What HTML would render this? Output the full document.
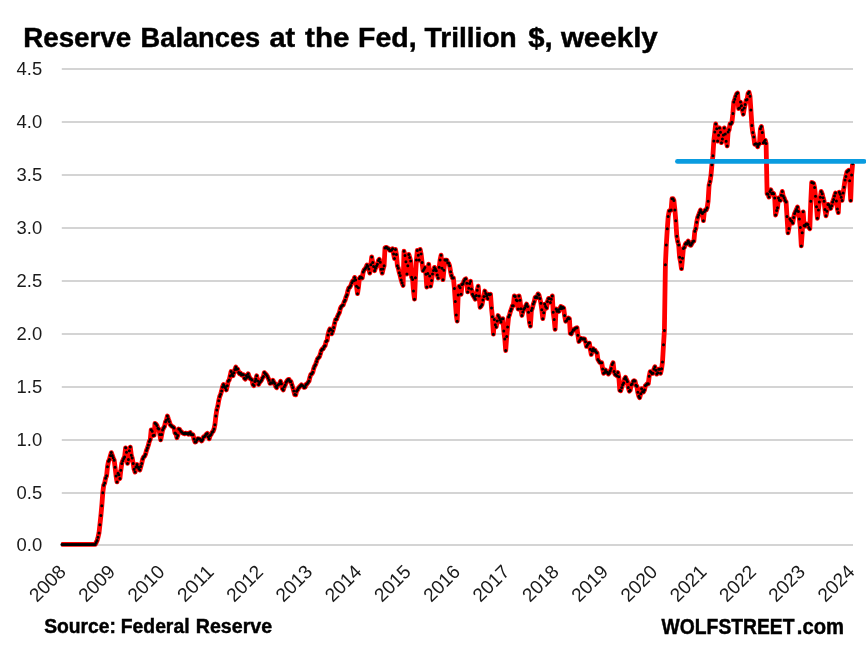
<!DOCTYPE html>
<html lang="en"><head><meta charset="utf-8"><title>Reserve Balances at the Fed</title>
<style>html,body{margin:0;padding:0;background:#fff}body{width:866px;height:645px;overflow:hidden}svg{display:block}text{font-family:"Liberation Sans",sans-serif;fill:#000}.b{font-weight:bold;stroke:#000;stroke-width:.45px}.ax{fill:#1a1a1a}</style></head><body>
<svg width="866" height="645" viewBox="0 0 866 645">
<rect width="866" height="645" fill="#fff"/>
<path d="M61.8 545H853M61.8 493H853M61.8 440H853M61.8 387H853M61.8 334H853M61.8 281H853M61.8 228H853M61.8 175H853M61.8 122H853M61.8 69H853" stroke="#d4d4d4" stroke-width="2" fill="none"/>
<text class="ax" x="16.6" y="551.3" font-size="17.8" textLength="25.6" lengthAdjust="spacingAndGlyphs">0.0</text>
<text class="ax" x="16.6" y="499.3" font-size="17.8" textLength="25.6" lengthAdjust="spacingAndGlyphs">0.5</text>
<text class="ax" x="16.6" y="446.3" font-size="17.8" textLength="25.6" lengthAdjust="spacingAndGlyphs">1.0</text>
<text class="ax" x="16.6" y="393.3" font-size="17.8" textLength="25.6" lengthAdjust="spacingAndGlyphs">1.5</text>
<text class="ax" x="16.6" y="340.3" font-size="17.8" textLength="25.6" lengthAdjust="spacingAndGlyphs">2.0</text>
<text class="ax" x="16.6" y="287.3" font-size="17.8" textLength="25.6" lengthAdjust="spacingAndGlyphs">2.5</text>
<text class="ax" x="16.6" y="234.3" font-size="17.8" textLength="25.6" lengthAdjust="spacingAndGlyphs">3.0</text>
<text class="ax" x="16.6" y="181.3" font-size="17.8" textLength="25.6" lengthAdjust="spacingAndGlyphs">3.5</text>
<text class="ax" x="16.6" y="128.3" font-size="17.8" textLength="25.6" lengthAdjust="spacingAndGlyphs">4.0</text>
<text class="ax" x="16.6" y="75.3" font-size="17.8" textLength="25.6" lengthAdjust="spacingAndGlyphs">4.5</text>
<path d="M61.3 544.4L61.9 544.4L62.9 544.4L63.8 544.4L64.8 544.4L65.7 544.4L66.7 544.4L67.6 544.4L68.6 544.4L69.5 544.4L70.5 544.4L71.4 544.4L72.4 544.4L73.3 544.4L74.3 544.4L75.2 544.4L76.2 544.4L77.1 544.4L78.1 544.4L79.0 544.4L80.0 544.4L80.9 544.4L81.9 544.4L82.8 544.4L83.8 544.4L84.7 544.4L85.7 544.4L86.6 544.4L87.6 544.4L88.5 544.4L89.5 544.4L90.4 544.4L91.4 544.4L92.3 544.4L93.3 544.4L94.2 544.4L95.2 544.4L96.1 542.6L97.1 540.5L98.0 537.3L99.0 532.9L99.9 524.8L100.9 515.5L101.8 505.7L102.8 492.7L103.7 485.2L104.7 483.0L105.6 478.2L106.6 475.8L107.5 466.7L108.5 461.2L109.4 459.6L110.4 455.6L111.3 452.6L112.3 455.4L113.2 457.8L114.2 460.2L115.1 467.3L116.1 476.1L117.0 481.9L118.0 473.2L118.9 474.7L119.9 478.6L120.8 470.3L121.8 463.4L122.7 460.8L123.7 458.5L124.6 456.9L125.6 447.8L126.5 452.3L127.5 463.4L128.4 459.4L129.4 450.7L130.3 447.1L131.3 455.2L132.2 458.0L133.2 463.6L134.1 469.3L135.1 472.1L136.0 467.1L137.0 464.5L137.9 467.0L138.9 468.8L139.8 470.0L140.8 466.5L141.7 463.4L142.7 459.0L143.6 457.0L144.6 456.3L145.5 454.3L146.5 450.4L147.4 448.1L148.4 445.1L149.3 441.4L150.3 439.5L151.2 429.8L152.2 431.2L153.1 435.6L154.1 435.2L155.0 423.3L156.0 424.1L156.9 425.4L157.9 428.2L158.8 429.0L159.8 434.4L160.7 439.9L161.7 434.5L162.6 430.1L163.6 427.9L164.5 426.5L165.5 421.7L166.4 420.3L167.4 416.0L168.3 418.8L169.3 421.5L170.2 424.7L171.2 425.6L172.1 426.4L173.1 426.9L174.0 427.9L175.0 433.0L175.9 433.7L176.9 437.7L177.8 435.6L178.8 429.0L179.7 429.6L180.7 431.3L181.6 432.0L182.6 432.9L183.5 433.4L184.5 433.8L185.4 433.1L186.4 433.4L187.3 433.4L188.3 434.2L189.2 433.1L190.2 432.5L191.1 434.4L192.1 434.4L193.0 434.8L194.0 439.1L195.0 442.0L195.9 441.9L196.9 440.1L197.8 438.6L198.8 438.8L199.7 439.1L200.7 439.9L201.6 441.0L202.6 439.6L203.5 436.9L204.5 436.6L205.4 435.5L206.4 434.1L207.3 433.4L208.3 436.7L209.2 438.8L210.2 435.4L211.1 434.5L212.1 432.3L213.0 431.5L214.0 429.0L214.9 424.7L215.9 416.0L216.8 409.9L217.8 406.1L218.7 400.8L219.7 396.5L220.6 394.3L221.6 391.0L222.5 387.0L223.5 384.5L224.4 386.2L225.4 387.8L226.3 389.9L227.3 385.7L228.2 381.3L229.2 380.0L230.1 376.1L231.1 371.5L232.0 374.2L233.0 375.8L233.9 372.7L234.9 369.5L235.8 367.1L236.8 369.3L237.7 369.1L238.7 372.6L239.6 373.7L240.6 373.2L241.5 375.0L242.5 374.6L243.4 374.7L244.4 378.2L245.3 379.1L246.3 375.4L247.2 377.3L248.2 373.7L249.1 376.4L250.1 378.6L251.0 379.1L252.0 380.1L252.9 384.4L253.9 385.6L254.8 381.5L255.8 379.1L256.7 375.8L257.7 381.1L258.6 384.5L259.6 382.4L260.5 381.4L261.5 380.2L262.4 378.0L263.4 376.5L264.3 372.6L265.3 373.8L266.2 374.4L267.2 376.0L268.1 378.0L269.1 380.2L270.0 383.4L271.0 382.7L271.9 383.0L272.9 380.2L273.8 382.1L274.8 383.5L275.7 386.5L276.7 387.8L277.6 385.2L278.6 384.4L279.5 383.7L280.5 381.3L281.4 383.7L282.4 388.8L283.3 389.9L284.3 386.7L285.2 385.0L286.2 382.3L287.1 380.7L288.1 379.6L289.0 379.4L290.0 381.5L290.9 381.5L291.9 384.8L292.8 387.6L293.8 391.1L294.7 394.6L295.7 394.8L296.6 391.2L297.6 389.8L298.5 388.1L299.5 386.9L300.4 385.9L301.4 384.8L302.3 385.6L303.3 385.9L304.2 387.4L305.2 387.0L306.1 384.4L307.1 383.8L308.0 382.5L309.0 381.1L309.9 377.2L310.9 374.3L311.8 373.8L312.8 372.3L313.7 368.6L314.7 365.9L315.6 364.4L316.6 361.5L317.5 358.8L318.5 357.7L319.4 356.8L320.4 353.8L321.3 350.5L322.3 349.0L323.2 348.9L324.2 346.6L325.1 345.8L326.1 341.6L327.1 340.5L328.0 334.9L329.0 331.1L329.9 329.1L330.9 329.5L331.8 333.8L332.8 331.0L333.7 327.6L334.7 323.0L335.6 319.5L336.6 319.2L337.5 316.5L338.5 314.3L339.4 312.6L340.4 308.4L341.3 306.6L342.3 305.6L343.2 305.0L344.2 301.8L345.1 300.2L346.1 296.8L347.0 294.8L348.0 290.4L348.9 287.8L349.9 287.2L350.8 285.5L351.8 282.8L352.7 280.9L353.7 280.7L354.6 277.4L355.6 279.9L356.5 286.2L357.5 293.7L358.4 287.7L359.4 278.5L360.3 277.1L361.3 277.2L362.2 278.0L363.2 272.1L364.1 269.9L365.1 268.7L366.0 267.5L367.0 265.0L367.9 266.2L368.9 269.0L369.8 273.1L370.8 264.8L371.7 256.9L372.7 262.4L373.6 266.4L374.6 270.7L375.5 268.2L376.5 266.1L377.4 264.2L378.4 260.4L379.3 259.3L380.3 262.3L381.2 269.2L382.2 273.1L383.1 269.1L384.1 265.8L385.0 247.9L386.0 247.3L386.9 247.5L387.9 248.7L388.8 248.7L389.8 250.4L390.7 250.4L391.7 250.0L392.6 248.7L393.6 254.0L394.5 258.5L395.5 249.5L396.4 254.4L397.4 265.8L398.3 268.2L399.3 272.8L400.2 275.6L401.2 279.9L402.1 282.8L403.1 285.4L404.0 251.2L405.0 255.5L405.9 261.7L406.9 274.0L407.8 265.7L408.8 254.4L409.7 257.5L410.7 260.9L411.6 277.2L412.6 279.6L413.5 290.9L414.5 299.2L415.4 277.8L416.4 260.1L417.3 250.4L418.3 255.3L419.2 260.1L420.2 249.5L421.1 253.9L422.1 262.6L423.0 270.7L424.0 269.3L424.9 267.4L425.9 274.3L426.8 287.0L427.8 273.6L428.7 264.2L429.7 275.9L430.6 286.2L431.6 280.4L432.5 274.0L433.5 270.6L434.4 267.4L435.4 268.9L436.3 270.7L437.3 275.0L438.2 278.0L439.2 267.3L440.1 260.1L441.1 255.2L442.0 268.3L443.0 279.7L443.9 270.2L444.9 260.1L445.8 260.2L446.8 260.1L447.7 262.8L448.7 263.3L449.6 265.8L450.6 271.7L451.5 275.6L452.5 278.1L453.4 278.0L454.4 288.4L455.3 301.6L456.3 315.0L457.2 321.2L458.2 295.1L459.2 286.2L460.1 287.8L461.1 294.3L462.0 284.5L463.0 283.8L463.9 281.2L464.9 279.3L465.8 278.8L466.8 283.2L467.7 291.9L468.7 288.3L469.6 283.6L470.6 281.3L471.5 289.1L472.5 294.3L473.4 296.0L474.4 297.6L475.3 299.2L476.3 295.6L477.2 290.3L478.2 286.2L479.1 296.0L480.1 307.3L481.0 306.2L482.0 304.5L482.9 300.0L483.9 296.5L484.8 291.0L485.8 293.4L486.7 295.9L487.7 298.4L488.6 294.3L489.6 294.7L490.5 294.3L491.5 308.1L492.4 316.8L493.4 334.2L494.3 319.5L495.3 324.7L496.2 326.9L497.2 321.1L498.1 315.5L499.1 317.6L500.0 319.8L501.0 322.0L501.9 319.1L502.9 318.7L503.8 330.9L504.8 338.9L505.7 350.5L506.7 336.6L507.6 326.9L508.6 317.1L509.5 314.9L510.5 311.1L511.4 309.0L512.4 305.7L513.3 305.7L514.3 295.9L515.2 296.4L516.2 300.0L517.1 300.8L518.1 309.0L519.0 295.9L520.0 300.2L520.9 308.7L521.9 315.5L522.8 312.1L523.8 309.2L524.7 308.1L525.7 305.8L526.6 304.1L527.6 306.5L528.5 312.2L529.5 322.5L530.4 326.1L531.4 310.6L532.3 308.3L533.3 304.1L534.2 301.7L535.2 297.4L536.1 296.7L537.1 297.4L538.0 293.9L539.0 295.1L539.9 298.5L540.9 303.3L541.8 309.7L542.8 318.7L543.7 312.7L544.7 304.1L545.6 306.6L546.6 308.1L547.5 301.5L548.5 298.4L549.4 298.5L550.4 302.4L551.3 299.3L552.3 295.9L553.2 312.2L554.2 319.6L555.1 329.3L556.1 309.0L557.0 311.2L558.0 310.1L558.9 311.4L559.9 308.4L560.8 306.5L561.8 308.4L562.7 307.3L563.7 308.1L564.6 315.6L565.6 321.2L566.5 320.8L567.5 319.0L568.4 318.0L569.4 318.7L570.3 333.4L571.3 333.9L572.2 331.7L573.2 329.8L574.1 330.1L575.1 328.5L576.0 328.1L577.0 327.7L577.9 335.2L578.9 341.5L579.8 340.3L580.8 338.3L581.7 338.6L582.7 339.1L583.6 338.7L584.6 339.1L585.5 341.7L586.5 346.4L587.4 344.9L588.4 343.3L589.4 343.1L590.3 349.3L591.3 354.5L592.2 351.0L593.2 348.8L594.1 350.7L595.1 350.3L596.0 352.0L597.0 352.9L597.9 359.4L598.9 361.1L599.8 362.4L600.8 362.8L601.7 362.7L602.7 369.1L603.6 373.3L604.6 372.6L605.5 370.0L606.5 372.3L607.4 372.3L608.4 374.1L609.3 373.0L610.3 370.8L611.2 368.5L612.2 364.6L613.1 362.7L614.1 371.6L615.0 374.3L616.0 375.1L616.9 375.7L617.9 372.5L618.8 376.8L619.8 390.4L620.7 390.7L621.7 387.6L622.6 384.7L623.6 383.0L624.5 378.8L625.5 377.3L626.4 379.4L627.4 381.4L628.3 387.6L629.3 391.2L630.2 390.2L631.2 384.7L632.1 383.9L633.1 381.3L634.0 380.6L635.0 381.1L635.9 385.3L636.9 386.3L637.8 392.3L638.8 396.2L639.7 397.7L640.7 393.7L641.6 388.7L642.6 391.6L643.5 392.0L644.5 389.9L645.4 385.5L646.4 384.7L647.3 383.7L648.3 383.8L649.2 376.3L650.2 371.6L651.1 372.3L652.1 373.5L653.0 373.3L654.0 368.9L654.9 366.8L655.9 370.3L656.8 374.1L657.8 372.7L658.7 369.2L659.7 369.2L660.6 373.3L661.6 368.7L662.5 361.9L663.5 344.8L664.4 330.4L665.4 264.7L666.3 245.1L667.3 228.8L668.2 216.6L669.2 210.9L670.1 210.6L671.1 210.1L672.0 198.7L673.0 198.7L673.9 200.4L674.9 210.1L675.8 220.7L676.8 236.2L677.7 241.4L678.7 245.1L679.6 257.3L680.6 261.9L681.5 268.7L682.5 258.2L683.4 248.4L684.4 247.4L685.3 244.3L686.3 243.0L687.2 243.8L688.2 241.1L689.1 242.6L690.1 245.1L691.0 245.3L692.0 243.2L692.9 241.6L693.9 241.1L694.8 231.3L695.8 228.6L696.7 222.3L697.7 217.3L698.6 215.0L699.6 212.5L700.5 210.1L701.5 212.2L702.4 213.4L703.4 220.7L704.3 211.7L705.3 210.0L706.2 210.1L707.2 207.7L708.1 201.2L709.1 185.0L710.0 181.6L711.0 175.2L711.9 164.7L712.9 155.7L713.8 141.1L714.8 132.1L715.7 124.0L716.7 128.7L717.6 141.1L718.6 135.2L719.5 128.0L720.5 132.3L721.5 142.7L722.4 139.1L723.4 135.0L724.3 128.0L725.3 133.9L726.2 141.2L727.2 145.9L728.1 132.1L729.1 129.8L730.0 124.0L731.0 123.9L731.9 122.3L732.9 113.4L733.8 102.0L734.8 99.2L735.7 96.3L736.7 93.8L737.6 93.0L738.6 108.5L739.5 107.9L740.5 102.0L741.4 105.8L742.4 110.0L743.3 114.2L744.3 108.1L745.2 104.4L746.2 100.1L747.1 99.5L748.1 93.4L749.0 92.2L750.0 96.3L750.9 110.1L751.9 125.6L752.8 132.6L753.8 137.0L754.7 144.3L755.7 143.8L756.6 144.0L757.6 146.8L758.5 144.4L759.5 143.5L760.4 128.8L761.4 126.4L762.3 132.4L763.3 142.7L764.2 141.6L765.2 140.2L766.1 143.5L767.1 193.8L768.0 194.3L769.0 197.1L769.9 191.4L770.9 189.8L771.8 193.5L772.8 193.0L773.7 193.7L774.7 197.9L775.6 215.0L776.6 210.6L777.5 207.7L778.5 197.9L779.4 200.3L780.4 200.4L781.3 195.3L782.3 191.4L783.2 196.1L784.2 197.9L785.1 200.6L786.1 202.0L787.0 216.6L788.0 232.9L788.9 228.4L789.9 219.1L790.8 220.4L791.8 221.2L792.7 223.1L793.7 217.4L794.6 213.4L795.6 211.2L796.5 209.4L797.5 206.9L798.4 211.6L799.4 219.1L800.3 227.5L801.3 245.9L802.2 232.8L803.2 211.8L804.1 225.6L805.1 226.1L806.0 224.0L807.0 224.0L807.9 224.6L808.9 227.4L809.8 228.8L810.8 201.2L811.7 182.4L812.7 182.8L813.6 183.3L814.6 187.5L815.5 196.3L816.5 206.8L817.4 218.3L818.4 210.0L819.3 202.0L820.3 197.3L821.2 191.4L822.2 193.8L823.1 197.7L824.1 201.2L825.0 209.5L826.0 215.8L826.9 211.3L827.9 204.4L828.8 204.7L829.8 206.8L830.7 208.5L831.7 205.7L832.6 202.0L833.6 199.5L834.5 196.1L835.5 193.0L836.4 201.0L837.4 209.0L838.3 212.6L839.3 192.2L840.2 194.2L841.2 197.3L842.1 200.4L843.1 192.9L844.0 187.3L845.0 180.0L845.9 176.4L846.9 171.9L847.8 171.0L848.8 170.2L849.7 180.8L850.7 200.4L851.6 175.1L852.6 163.7" stroke="#ff0000" stroke-width="4.8" fill="none" stroke-linejoin="round" stroke-linecap="butt"/>
<path d="M61.9 544.4h0M62.9 544.4h0M63.8 544.4h0M64.8 544.4h0M65.7 544.4h0M66.7 544.4h0M67.6 544.4h0M68.6 544.4h0M69.5 544.4h0M70.5 544.4h0M71.4 544.4h0M72.4 544.4h0M73.3 544.4h0M74.3 544.4h0M75.2 544.4h0M76.2 544.4h0M77.1 544.4h0M78.1 544.4h0M79.0 544.4h0M80.0 544.4h0M80.9 544.4h0M81.9 544.4h0M82.8 544.4h0M83.8 544.4h0M84.7 544.4h0M85.7 544.4h0M86.6 544.4h0M87.6 544.4h0M88.5 544.4h0M89.5 544.4h0M90.4 544.4h0M91.4 544.4h0M92.3 544.4h0M93.3 544.4h0M94.2 544.4h0M95.2 544.4h0M96.1 542.6h0M97.1 540.5h0M98.0 537.3h0M99.0 532.9h0M99.9 524.8h0M100.9 515.5h0M101.8 505.7h0M102.8 492.7h0M103.7 485.2h0M104.7 483.0h0M105.6 478.2h0M106.6 475.8h0M107.5 466.7h0M108.5 461.2h0M109.4 459.6h0M110.4 455.6h0M111.3 452.6h0M112.3 455.4h0M113.2 457.8h0M114.2 460.2h0M115.1 467.3h0M116.1 476.1h0M117.0 481.9h0M118.0 473.2h0M118.9 474.7h0M119.9 478.6h0M120.8 470.3h0M121.8 463.4h0M122.7 460.8h0M123.7 458.5h0M124.6 456.9h0M125.6 447.8h0M126.5 452.3h0M127.5 463.4h0M128.4 459.4h0M129.4 450.7h0M130.3 447.1h0M131.3 455.2h0M132.2 458.0h0M133.2 463.6h0M134.1 469.3h0M135.1 472.1h0M136.0 467.1h0M137.0 464.5h0M137.9 467.0h0M138.9 468.8h0M139.8 470.0h0M140.8 466.5h0M141.7 463.4h0M142.7 459.0h0M143.6 457.0h0M144.6 456.3h0M145.5 454.3h0M146.5 450.4h0M147.4 448.1h0M148.4 445.1h0M149.3 441.4h0M150.3 439.5h0M151.2 429.8h0M152.2 431.2h0M153.1 435.6h0M154.1 435.2h0M155.0 423.3h0M156.0 424.1h0M156.9 425.4h0M157.9 428.2h0M158.8 429.0h0M159.8 434.4h0M160.7 439.9h0M161.7 434.5h0M162.6 430.1h0M163.6 427.9h0M164.5 426.5h0M165.5 421.7h0M166.4 420.3h0M167.4 416.0h0M168.3 418.8h0M169.3 421.5h0M170.2 424.7h0M171.2 425.6h0M172.1 426.4h0M173.1 426.9h0M174.0 427.9h0M175.0 433.0h0M175.9 433.7h0M176.9 437.7h0M177.8 435.6h0M178.8 429.0h0M179.7 429.6h0M180.7 431.3h0M181.6 432.0h0M182.6 432.9h0M183.5 433.4h0M184.5 433.8h0M185.4 433.1h0M186.4 433.4h0M187.3 433.4h0M188.3 434.2h0M189.2 433.1h0M190.2 432.5h0M191.1 434.4h0M192.1 434.4h0M193.0 434.8h0M194.0 439.1h0M195.0 442.0h0M195.9 441.9h0M196.9 440.1h0M197.8 438.6h0M198.8 438.8h0M199.7 439.1h0M200.7 439.9h0M201.6 441.0h0M202.6 439.6h0M203.5 436.9h0M204.5 436.6h0M205.4 435.5h0M206.4 434.1h0M207.3 433.4h0M208.3 436.7h0M209.2 438.8h0M210.2 435.4h0M211.1 434.5h0M212.1 432.3h0M213.0 431.5h0M214.0 429.0h0M214.9 424.7h0M215.9 416.0h0M216.8 409.9h0M217.8 406.1h0M218.7 400.8h0M219.7 396.5h0M220.6 394.3h0M221.6 391.0h0M222.5 387.0h0M223.5 384.5h0M224.4 386.2h0M225.4 387.8h0M226.3 389.9h0M227.3 385.7h0M228.2 381.3h0M229.2 380.0h0M230.1 376.1h0M231.1 371.5h0M232.0 374.2h0M233.0 375.8h0M233.9 372.7h0M234.9 369.5h0M235.8 367.1h0M236.8 369.3h0M237.7 369.1h0M238.7 372.6h0M239.6 373.7h0M240.6 373.2h0M241.5 375.0h0M242.5 374.6h0M243.4 374.7h0M244.4 378.2h0M245.3 379.1h0M246.3 375.4h0M247.2 377.3h0M248.2 373.7h0M249.1 376.4h0M250.1 378.6h0M251.0 379.1h0M252.0 380.1h0M252.9 384.4h0M253.9 385.6h0M254.8 381.5h0M255.8 379.1h0M256.7 375.8h0M257.7 381.1h0M258.6 384.5h0M259.6 382.4h0M260.5 381.4h0M261.5 380.2h0M262.4 378.0h0M263.4 376.5h0M264.3 372.6h0M265.3 373.8h0M266.2 374.4h0M267.2 376.0h0M268.1 378.0h0M269.1 380.2h0M270.0 383.4h0M271.0 382.7h0M271.9 383.0h0M272.9 380.2h0M273.8 382.1h0M274.8 383.5h0M275.7 386.5h0M276.7 387.8h0M277.6 385.2h0M278.6 384.4h0M279.5 383.7h0M280.5 381.3h0M281.4 383.7h0M282.4 388.8h0M283.3 389.9h0M284.3 386.7h0M285.2 385.0h0M286.2 382.3h0M287.1 380.7h0M288.1 379.6h0M289.0 379.4h0M290.0 381.5h0M290.9 381.5h0M291.9 384.8h0M292.8 387.6h0M293.8 391.1h0M294.7 394.6h0M295.7 394.8h0M296.6 391.2h0M297.6 389.8h0M298.5 388.1h0M299.5 386.9h0M300.4 385.9h0M301.4 384.8h0M302.3 385.6h0M303.3 385.9h0M304.2 387.4h0M305.2 387.0h0M306.1 384.4h0M307.1 383.8h0M308.0 382.5h0M309.0 381.1h0M309.9 377.2h0M310.9 374.3h0M311.8 373.8h0M312.8 372.3h0M313.7 368.6h0M314.7 365.9h0M315.6 364.4h0M316.6 361.5h0M317.5 358.8h0M318.5 357.7h0M319.4 356.8h0M320.4 353.8h0M321.3 350.5h0M322.3 349.0h0M323.2 348.9h0M324.2 346.6h0M325.1 345.8h0M326.1 341.6h0M327.1 340.5h0M328.0 334.9h0M329.0 331.1h0M329.9 329.1h0M330.9 329.5h0M331.8 333.8h0M332.8 331.0h0M333.7 327.6h0M334.7 323.0h0M335.6 319.5h0M336.6 319.2h0M337.5 316.5h0M338.5 314.3h0M339.4 312.6h0M340.4 308.4h0M341.3 306.6h0M342.3 305.6h0M343.2 305.0h0M344.2 301.8h0M345.1 300.2h0M346.1 296.8h0M347.0 294.8h0M348.0 290.4h0M348.9 287.8h0M349.9 287.2h0M350.8 285.5h0M351.8 282.8h0M352.7 280.9h0M353.7 280.7h0M354.6 277.4h0M355.6 279.9h0M356.5 286.2h0M357.5 293.7h0M358.4 287.7h0M359.4 278.5h0M360.3 277.1h0M361.3 277.2h0M362.2 278.0h0M363.2 272.1h0M364.1 269.9h0M365.1 268.7h0M366.0 267.5h0M367.0 265.0h0M367.9 266.2h0M368.9 269.0h0M369.8 273.1h0M370.8 264.8h0M371.7 256.9h0M372.7 262.4h0M373.6 266.4h0M374.6 270.7h0M375.5 268.2h0M376.5 266.1h0M377.4 264.2h0M378.4 260.4h0M379.3 259.3h0M380.3 262.3h0M381.2 269.2h0M382.2 273.1h0M383.1 269.1h0M384.1 265.8h0M385.0 247.9h0M386.0 247.3h0M386.9 247.5h0M387.9 248.7h0M388.8 248.7h0M389.8 250.4h0M390.7 250.4h0M391.7 250.0h0M392.6 248.7h0M393.6 254.0h0M394.5 258.5h0M395.5 249.5h0M396.4 254.4h0M397.4 265.8h0M398.3 268.2h0M399.3 272.8h0M400.2 275.6h0M401.2 279.9h0M402.1 282.8h0M403.1 285.4h0M404.0 251.2h0M405.0 255.5h0M405.9 261.7h0M406.9 274.0h0M407.8 265.7h0M408.8 254.4h0M409.7 257.5h0M410.7 260.9h0M411.6 277.2h0M412.6 279.6h0M413.5 290.9h0M414.5 299.2h0M415.4 277.8h0M416.4 260.1h0M417.3 250.4h0M418.3 255.3h0M419.2 260.1h0M420.2 249.5h0M421.1 253.9h0M422.1 262.6h0M423.0 270.7h0M424.0 269.3h0M424.9 267.4h0M425.9 274.3h0M426.8 287.0h0M427.8 273.6h0M428.7 264.2h0M429.7 275.9h0M430.6 286.2h0M431.6 280.4h0M432.5 274.0h0M433.5 270.6h0M434.4 267.4h0M435.4 268.9h0M436.3 270.7h0M437.3 275.0h0M438.2 278.0h0M439.2 267.3h0M440.1 260.1h0M441.1 255.2h0M442.0 268.3h0M443.0 279.7h0M443.9 270.2h0M444.9 260.1h0M445.8 260.2h0M446.8 260.1h0M447.7 262.8h0M448.7 263.3h0M449.6 265.8h0M450.6 271.7h0M451.5 275.6h0M452.5 278.1h0M453.4 278.0h0M454.4 288.4h0M455.3 301.6h0M456.3 315.0h0M457.2 321.2h0M458.2 295.1h0M459.2 286.2h0M460.1 287.8h0M461.1 294.3h0M462.0 284.5h0M463.0 283.8h0M463.9 281.2h0M464.9 279.3h0M465.8 278.8h0M466.8 283.2h0M467.7 291.9h0M468.7 288.3h0M469.6 283.6h0M470.6 281.3h0M471.5 289.1h0M472.5 294.3h0M473.4 296.0h0M474.4 297.6h0M475.3 299.2h0M476.3 295.6h0M477.2 290.3h0M478.2 286.2h0M479.1 296.0h0M480.1 307.3h0M481.0 306.2h0M482.0 304.5h0M482.9 300.0h0M483.9 296.5h0M484.8 291.0h0M485.8 293.4h0M486.7 295.9h0M487.7 298.4h0M488.6 294.3h0M489.6 294.7h0M490.5 294.3h0M491.5 308.1h0M492.4 316.8h0M493.4 334.2h0M494.3 319.5h0M495.3 324.7h0M496.2 326.9h0M497.2 321.1h0M498.1 315.5h0M499.1 317.6h0M500.0 319.8h0M501.0 322.0h0M501.9 319.1h0M502.9 318.7h0M503.8 330.9h0M504.8 338.9h0M505.7 350.5h0M506.7 336.6h0M507.6 326.9h0M508.6 317.1h0M509.5 314.9h0M510.5 311.1h0M511.4 309.0h0M512.4 305.7h0M513.3 305.7h0M514.3 295.9h0M515.2 296.4h0M516.2 300.0h0M517.1 300.8h0M518.1 309.0h0M519.0 295.9h0M520.0 300.2h0M520.9 308.7h0M521.9 315.5h0M522.8 312.1h0M523.8 309.2h0M524.7 308.1h0M525.7 305.8h0M526.6 304.1h0M527.6 306.5h0M528.5 312.2h0M529.5 322.5h0M530.4 326.1h0M531.4 310.6h0M532.3 308.3h0M533.3 304.1h0M534.2 301.7h0M535.2 297.4h0M536.1 296.7h0M537.1 297.4h0M538.0 293.9h0M539.0 295.1h0M539.9 298.5h0M540.9 303.3h0M541.8 309.7h0M542.8 318.7h0M543.7 312.7h0M544.7 304.1h0M545.6 306.6h0M546.6 308.1h0M547.5 301.5h0M548.5 298.4h0M549.4 298.5h0M550.4 302.4h0M551.3 299.3h0M552.3 295.9h0M553.2 312.2h0M554.2 319.6h0M555.1 329.3h0M556.1 309.0h0M557.0 311.2h0M558.0 310.1h0M558.9 311.4h0M559.9 308.4h0M560.8 306.5h0M561.8 308.4h0M562.7 307.3h0M563.7 308.1h0M564.6 315.6h0M565.6 321.2h0M566.5 320.8h0M567.5 319.0h0M568.4 318.0h0M569.4 318.7h0M570.3 333.4h0M571.3 333.9h0M572.2 331.7h0M573.2 329.8h0M574.1 330.1h0M575.1 328.5h0M576.0 328.1h0M577.0 327.7h0M577.9 335.2h0M578.9 341.5h0M579.8 340.3h0M580.8 338.3h0M581.7 338.6h0M582.7 339.1h0M583.6 338.7h0M584.6 339.1h0M585.5 341.7h0M586.5 346.4h0M587.4 344.9h0M588.4 343.3h0M589.4 343.1h0M590.3 349.3h0M591.3 354.5h0M592.2 351.0h0M593.2 348.8h0M594.1 350.7h0M595.1 350.3h0M596.0 352.0h0M597.0 352.9h0M597.9 359.4h0M598.9 361.1h0M599.8 362.4h0M600.8 362.8h0M601.7 362.7h0M602.7 369.1h0M603.6 373.3h0M604.6 372.6h0M605.5 370.0h0M606.5 372.3h0M607.4 372.3h0M608.4 374.1h0M609.3 373.0h0M610.3 370.8h0M611.2 368.5h0M612.2 364.6h0M613.1 362.7h0M614.1 371.6h0M615.0 374.3h0M616.0 375.1h0M616.9 375.7h0M617.9 372.5h0M618.8 376.8h0M619.8 390.4h0M620.7 390.7h0M621.7 387.6h0M622.6 384.7h0M623.6 383.0h0M624.5 378.8h0M625.5 377.3h0M626.4 379.4h0M627.4 381.4h0M628.3 387.6h0M629.3 391.2h0M630.2 390.2h0M631.2 384.7h0M632.1 383.9h0M633.1 381.3h0M634.0 380.6h0M635.0 381.1h0M635.9 385.3h0M636.9 386.3h0M637.8 392.3h0M638.8 396.2h0M639.7 397.7h0M640.7 393.7h0M641.6 388.7h0M642.6 391.6h0M643.5 392.0h0M644.5 389.9h0M645.4 385.5h0M646.4 384.7h0M647.3 383.7h0M648.3 383.8h0M649.2 376.3h0M650.2 371.6h0M651.1 372.3h0M652.1 373.5h0M653.0 373.3h0M654.0 368.9h0M654.9 366.8h0M655.9 370.3h0M656.8 374.1h0M657.8 372.7h0M658.7 369.2h0M659.7 369.2h0M660.6 373.3h0M661.6 368.7h0M662.5 361.9h0M663.5 344.8h0M664.4 330.4h0M665.4 264.7h0M666.3 245.1h0M667.3 228.8h0M668.2 216.6h0M669.2 210.9h0M670.1 210.6h0M671.1 210.1h0M672.0 198.7h0M673.0 198.7h0M673.9 200.4h0M674.9 210.1h0M675.8 220.7h0M676.8 236.2h0M677.7 241.4h0M678.7 245.1h0M679.6 257.3h0M680.6 261.9h0M681.5 268.7h0M682.5 258.2h0M683.4 248.4h0M684.4 247.4h0M685.3 244.3h0M686.3 243.0h0M687.2 243.8h0M688.2 241.1h0M689.1 242.6h0M690.1 245.1h0M691.0 245.3h0M692.0 243.2h0M692.9 241.6h0M693.9 241.1h0M694.8 231.3h0M695.8 228.6h0M696.7 222.3h0M697.7 217.3h0M698.6 215.0h0M699.6 212.5h0M700.5 210.1h0M701.5 212.2h0M702.4 213.4h0M703.4 220.7h0M704.3 211.7h0M705.3 210.0h0M706.2 210.1h0M707.2 207.7h0M708.1 201.2h0M709.1 185.0h0M710.0 181.6h0M711.0 175.2h0M711.9 164.7h0M712.9 155.7h0M713.8 141.1h0M714.8 132.1h0M715.7 124.0h0M716.7 128.7h0M717.6 141.1h0M718.6 135.2h0M719.5 128.0h0M720.5 132.3h0M721.5 142.7h0M722.4 139.1h0M723.4 135.0h0M724.3 128.0h0M725.3 133.9h0M726.2 141.2h0M727.2 145.9h0M728.1 132.1h0M729.1 129.8h0M730.0 124.0h0M731.0 123.9h0M731.9 122.3h0M732.9 113.4h0M733.8 102.0h0M734.8 99.2h0M735.7 96.3h0M736.7 93.8h0M737.6 93.0h0M738.6 108.5h0M739.5 107.9h0M740.5 102.0h0M741.4 105.8h0M742.4 110.0h0M743.3 114.2h0M744.3 108.1h0M745.2 104.4h0M746.2 100.1h0M747.1 99.5h0M748.1 93.4h0M749.0 92.2h0M750.0 96.3h0M750.9 110.1h0M751.9 125.6h0M752.8 132.6h0M753.8 137.0h0M754.7 144.3h0M755.7 143.8h0M756.6 144.0h0M757.6 146.8h0M758.5 144.4h0M759.5 143.5h0M760.4 128.8h0M761.4 126.4h0M762.3 132.4h0M763.3 142.7h0M764.2 141.6h0M765.2 140.2h0M766.1 143.5h0M767.1 193.8h0M768.0 194.3h0M769.0 197.1h0M769.9 191.4h0M770.9 189.8h0M771.8 193.5h0M772.8 193.0h0M773.7 193.7h0M774.7 197.9h0M775.6 215.0h0M776.6 210.6h0M777.5 207.7h0M778.5 197.9h0M779.4 200.3h0M780.4 200.4h0M781.3 195.3h0M782.3 191.4h0M783.2 196.1h0M784.2 197.9h0M785.1 200.6h0M786.1 202.0h0M787.0 216.6h0M788.0 232.9h0M788.9 228.4h0M789.9 219.1h0M790.8 220.4h0M791.8 221.2h0M792.7 223.1h0M793.7 217.4h0M794.6 213.4h0M795.6 211.2h0M796.5 209.4h0M797.5 206.9h0M798.4 211.6h0M799.4 219.1h0M800.3 227.5h0M801.3 245.9h0M802.2 232.8h0M803.2 211.8h0M804.1 225.6h0M805.1 226.1h0M806.0 224.0h0M807.0 224.0h0M807.9 224.6h0M808.9 227.4h0M809.8 228.8h0M810.8 201.2h0M811.7 182.4h0M812.7 182.8h0M813.6 183.3h0M814.6 187.5h0M815.5 196.3h0M816.5 206.8h0M817.4 218.3h0M818.4 210.0h0M819.3 202.0h0M820.3 197.3h0M821.2 191.4h0M822.2 193.8h0M823.1 197.7h0M824.1 201.2h0M825.0 209.5h0M826.0 215.8h0M826.9 211.3h0M827.9 204.4h0M828.8 204.7h0M829.8 206.8h0M830.7 208.5h0M831.7 205.7h0M832.6 202.0h0M833.6 199.5h0M834.5 196.1h0M835.5 193.0h0M836.4 201.0h0M837.4 209.0h0M838.3 212.6h0M839.3 192.2h0M840.2 194.2h0M841.2 197.3h0M842.1 200.4h0M843.1 192.9h0M844.0 187.3h0M845.0 180.0h0M845.9 176.4h0M846.9 171.9h0M847.8 171.0h0M848.8 170.2h0M849.7 180.8h0M850.7 200.4h0M851.6 175.1h0M852.6 163.7h0" stroke="#000" stroke-width="3.0" fill="none" stroke-linecap="round"/>
<path d="M677.5 161.4H864" stroke="#0a9ce0" stroke-width="4.9" stroke-linecap="round" fill="none"/>
<text class="ax" font-size="19.2" text-anchor="end" textLength="42.6" lengthAdjust="spacingAndGlyphs" transform="translate(67.1 573.0) rotate(-45)">2008</text>
<text class="ax" font-size="19.2" text-anchor="end" textLength="42.6" lengthAdjust="spacingAndGlyphs" transform="translate(116.4 573.0) rotate(-45)">2009</text>
<text class="ax" font-size="19.2" text-anchor="end" textLength="42.6" lengthAdjust="spacingAndGlyphs" transform="translate(165.7 573.0) rotate(-45)">2010</text>
<text class="ax" font-size="19.2" text-anchor="end" textLength="42.6" lengthAdjust="spacingAndGlyphs" transform="translate(215.0 573.0) rotate(-45)">2011</text>
<text class="ax" font-size="19.2" text-anchor="end" textLength="42.6" lengthAdjust="spacingAndGlyphs" transform="translate(264.3 573.0) rotate(-45)">2012</text>
<text class="ax" font-size="19.2" text-anchor="end" textLength="42.6" lengthAdjust="spacingAndGlyphs" transform="translate(313.6 573.0) rotate(-45)">2013</text>
<text class="ax" font-size="19.2" text-anchor="end" textLength="42.6" lengthAdjust="spacingAndGlyphs" transform="translate(362.8 573.0) rotate(-45)">2014</text>
<text class="ax" font-size="19.2" text-anchor="end" textLength="42.6" lengthAdjust="spacingAndGlyphs" transform="translate(412.1 573.0) rotate(-45)">2015</text>
<text class="ax" font-size="19.2" text-anchor="end" textLength="42.6" lengthAdjust="spacingAndGlyphs" transform="translate(461.4 573.0) rotate(-45)">2016</text>
<text class="ax" font-size="19.2" text-anchor="end" textLength="42.6" lengthAdjust="spacingAndGlyphs" transform="translate(510.7 573.0) rotate(-45)">2017</text>
<text class="ax" font-size="19.2" text-anchor="end" textLength="42.6" lengthAdjust="spacingAndGlyphs" transform="translate(560.0 573.0) rotate(-45)">2018</text>
<text class="ax" font-size="19.2" text-anchor="end" textLength="42.6" lengthAdjust="spacingAndGlyphs" transform="translate(609.3 573.0) rotate(-45)">2019</text>
<text class="ax" font-size="19.2" text-anchor="end" textLength="42.6" lengthAdjust="spacingAndGlyphs" transform="translate(658.6 573.0) rotate(-45)">2020</text>
<text class="ax" font-size="19.2" text-anchor="end" textLength="42.6" lengthAdjust="spacingAndGlyphs" transform="translate(707.9 573.0) rotate(-45)">2021</text>
<text class="ax" font-size="19.2" text-anchor="end" textLength="42.6" lengthAdjust="spacingAndGlyphs" transform="translate(757.2 573.0) rotate(-45)">2022</text>
<text class="ax" font-size="19.2" text-anchor="end" textLength="42.6" lengthAdjust="spacingAndGlyphs" transform="translate(806.4 573.0) rotate(-45)">2023</text>
<text class="ax" font-size="19.2" text-anchor="end" textLength="42.6" lengthAdjust="spacingAndGlyphs" transform="translate(855.7 573.0) rotate(-45)">2024</text>
<text class="b" x="23.20" y="46.8" font-size="27.4" textLength="108.00" lengthAdjust="spacingAndGlyphs">Reserve</text>
<text class="b" x="140.60" y="46.8" font-size="27.4" textLength="119.60" lengthAdjust="spacingAndGlyphs">Balances</text>
<text class="b" x="269.40" y="46.8" font-size="27.4" textLength="25.70" lengthAdjust="spacingAndGlyphs">at</text>
<text class="b" x="305.10" y="46.8" font-size="27.4" textLength="44.30" lengthAdjust="spacingAndGlyphs">the</text>
<text class="b" x="358.10" y="46.8" font-size="27.4" textLength="58.50" lengthAdjust="spacingAndGlyphs">Fed,</text>
<text class="b" x="424.60" y="46.8" font-size="27.4" textLength="92.20" lengthAdjust="spacingAndGlyphs">Trillion</text>
<text class="b" x="528.30" y="46.8" font-size="27.4" textLength="24.40" lengthAdjust="spacingAndGlyphs">$,</text>
<text class="b" x="560.90" y="46.8" font-size="27.4" textLength="96.90" lengthAdjust="spacingAndGlyphs">weekly</text>
<text class="b" x="44.20" y="633.2" font-size="19.6" textLength="71.80" lengthAdjust="spacingAndGlyphs">Source:</text>
<text class="b" x="120.80" y="633.2" font-size="19.6" textLength="68.70" lengthAdjust="spacingAndGlyphs">Federal</text>
<text class="b" x="195.80" y="633.2" font-size="19.6" textLength="76.30" lengthAdjust="spacingAndGlyphs">Reserve</text>
<text class="b" x="661.60" y="633.8" font-size="21.2" textLength="132.90" lengthAdjust="spacingAndGlyphs">WOLFSTREET</text>
<text class="b" x="796.80" y="633.8" font-size="21.2" textLength="47.20" lengthAdjust="spacingAndGlyphs">.com</text>
</svg></body></html>
